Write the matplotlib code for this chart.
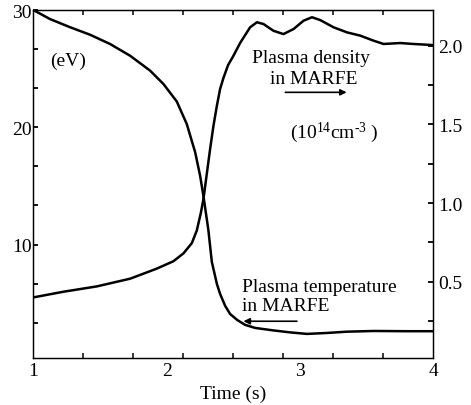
import numpy as np
import matplotlib
matplotlib.use("Agg")
import matplotlib.pyplot as plt

plt.rcParams['font.family'] = ['Liberation Serif', 'DejaVu Serif']
plt.rcParams['mathtext.fontset'] = 'custom'
plt.rcParams['mathtext.rm'] = 'Liberation Serif'
plt.rcParams['mathtext.it'] = 'Liberation Serif:italic'

# Plasma temperature in MARFE (eV, left axis)
temp_time = [1.0, 1.125, 1.276, 1.426, 1.576, 1.726, 1.876, 1.976, 2.076, 2.151,
             2.214, 2.251, 2.276, 2.313, 2.339, 2.377, 2.401, 2.439, 2.476, 2.529,
             2.589, 2.664, 2.799, 2.926, 3.052, 3.202, 3.352, 3.552, 3.803, 4.0]
temp_ev = [30.0, 29.23, 28.53, 27.89, 27.10, 26.10, 24.83, 23.69, 22.20, 20.28,
           17.87, 15.87, 14.14, 11.24, 8.52, 6.64, 5.79, 4.77, 4.08, 3.57,
           3.15, 2.89, 2.68, 2.51, 2.38, 2.46, 2.57, 2.63, 2.61, 2.61]

# Plasma density in MARFE (1e14 cm^-3, right axis)
dens_time = [1.0, 1.225, 1.476, 1.726, 1.926, 2.051, 2.126, 2.189, 2.226, 2.256,
             2.276, 2.301, 2.326, 2.351, 2.377, 2.401, 2.426, 2.461, 2.501, 2.551,
             2.626, 2.677, 2.726, 2.801, 2.876, 2.952, 3.027, 3.090, 3.152, 3.252,
             3.352, 3.452, 3.552, 3.627, 3.752, 3.852, 4.0]
dens_val = [0.400, 0.436, 0.470, 0.519, 0.583, 0.630, 0.680, 0.745, 0.825, 0.935,
            1.025, 1.184, 1.343, 1.490, 1.619, 1.725, 1.795, 1.877, 1.936, 2.017,
            2.117, 2.149, 2.138, 2.095, 2.074, 2.106, 2.159, 2.181, 2.163, 2.117,
            2.085, 2.064, 2.032, 2.011, 2.017, 2.011, 2.004]

x_labels = ['1', '2', '3', '4']
x_label_pos = [1, 2, 3, 4]
left_ticks = [10, 20, 30]
right_ticks = [0.5, 1.0, 1.5, 2.0]

fig = plt.figure(figsize=(4.71, 4.06), dpi=100)
ax = fig.add_axes([33.3 / 471, 1 - 359.3 / 406, 400 / 471, 348.3 / 406])
ax2 = ax.twinx()

ax.plot(temp_time, temp_ev, color='black', lw=1.8, solid_capstyle='round')
ax2.plot(dens_time, dens_val, color='black', lw=1.8, solid_capstyle='round')

ax.set_xlim(1, 4)
ax.set_ylim(0.3, 30)
ax2.set_ylim(0.013, 2.227)

fs = 14
# x axis: labels at integers, ticks every 0.375 s
ax.set_xticks(x_label_pos)
ax.set_xticklabels(x_labels, fontsize=fs)
ax.set_xticks(np.arange(1, 4.001, 0.375), minor=True)
ax.tick_params(axis='x', which='major', length=0, pad=3)
ax.tick_params(axis='x', which='minor', direction='in', length=3.5, width=1.1,
               top=True, bottom=True)

ax.set_yticks(left_ticks)
ax.set_yticklabels([str(v) for v in left_ticks], fontsize=fs)
ax.set_yticks([v * 10 / 3 for v in range(1, 9) if v % 3 != 0], minor=True)
ax.tick_params(axis='y', which='both', direction='in', length=3.5, width=1.3, pad=1)

ax2.set_yticks(right_ticks)
ax2.set_yticklabels(['%.1f' % v for v in right_ticks], fontsize=fs)
ax2.set_yticks([0.25, 0.75, 1.25, 1.75], minor=True)
ax2.tick_params(axis='y', which='both', direction='in', length=3.5, width=1.3, pad=3.5)

for a in (ax, ax2):
    for s in a.spines.values():
        s.set_linewidth(0.9)

ax.set_xlabel('Time (s)', fontsize=fs, labelpad=4)

ax.text(1.126, 25.68, '(eV)', fontsize=fs, ha='left', va='center')
ax.text(2.639, 25.97, 'Plasma density', fontsize=fs, ha='left', va='center')
ax.text(2.777, 24.12, 'in MARFE', fontsize=fs, ha='left', va='center')
ax.text(2.927, 19.57, r'(10$^{14}$cm$^{\text{-}3}$ )', fontsize=fs, ha='left', va='center')
ax.text(2.564, 6.44, 'Plasma temperature', fontsize=fs, ha='left', va='center')
ax.text(2.564, 4.79, 'in MARFE', fontsize=fs, ha='left', va='center')

ax.annotate('', xy=(3.35, 22.98), xytext=(2.89, 22.98),
            arrowprops=dict(arrowstyle='-|>', lw=1.2, color='black', mutation_scale=9,
                            shrinkA=0, shrinkB=0))
ax.annotate('', xy=(2.576, 3.46), xytext=(2.977, 3.46),
            arrowprops=dict(arrowstyle='-|>', lw=1.2, color='black', mutation_scale=9,
                            shrinkA=0, shrinkB=0))

fig.savefig('out.png', dpi=100)
